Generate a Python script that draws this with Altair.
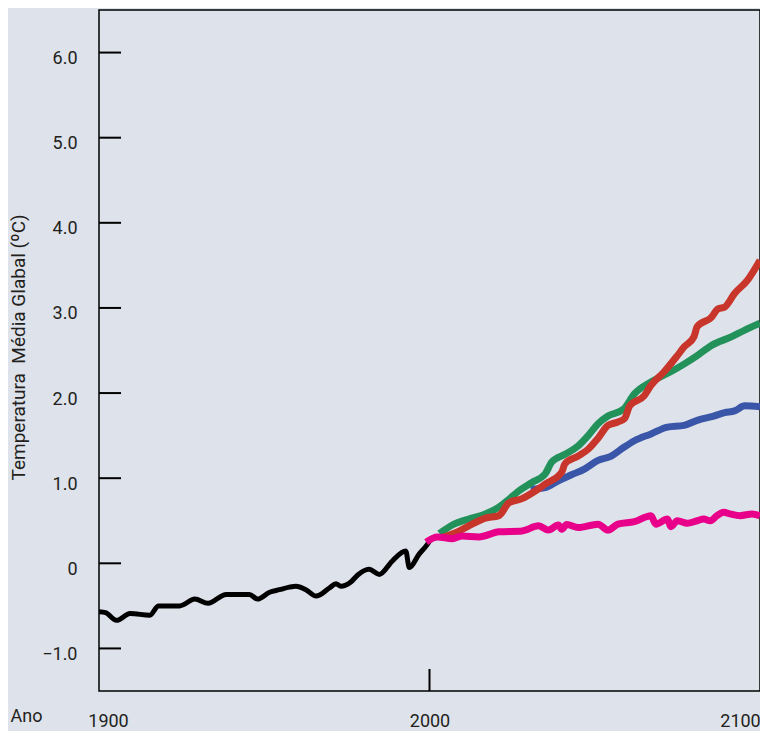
import altair as alt
import pandas as pd

# Observed (black)
obs_years = [1900, 1902, 1905.3, 1909.4, 1915.4, 1918, 1924.4, 1929, 1933, 1938.5, 1945.5,
             1948, 1951.6, 1954.6, 1957.6, 1959.6, 1962.6, 1965.7, 1969.7, 1971.7, 1973.2,
             1976.2, 1978.2, 1981.7, 1984.8, 1988.8, 1992.8, 1993.9, 1996.8, 1999.3, 2000]
obs_temps = [-0.57, -0.58, -0.67, -0.59, -0.61, -0.50, -0.50, -0.42, -0.47, -0.365, -0.365,
             -0.42, -0.34, -0.31, -0.28, -0.27, -0.31, -0.385, -0.29, -0.24, -0.27,
             -0.22, -0.14, -0.07, -0.13, 0.03, 0.145, -0.05, 0.105, 0.22, 0.26]

# Pink scenario
pink_years = [1999, 2002.4, 2006.9, 2009.9, 2014.9, 2021, 2028, 2033, 2036, 2039, 2040, 2041.5,
              2045, 2051, 2054, 2057, 2062, 2067, 2068.5, 2072, 2073, 2075, 2078, 2081, 2083,
              2085, 2087, 2089, 2091, 2094, 2097.6, 2100]
pink_temps = [0.25, 0.31, 0.29, 0.32, 0.31, 0.37, 0.38, 0.44, 0.39, 0.45, 0.40, 0.455,
              0.42, 0.46, 0.39, 0.46, 0.49, 0.56, 0.46, 0.52, 0.43, 0.50, 0.47, 0.50, 0.52,
              0.50, 0.56, 0.60, 0.58, 0.56, 0.58, 0.56]

# Green scenario
green_years = [2003, 2006.9, 2011.9, 2016.9, 2021, 2024, 2027, 2031, 2035, 2037, 2041, 2045,
               2048, 2051, 2054, 2058.7, 2062, 2067, 2073, 2077, 2081, 2085.3, 2091.3, 2095.4, 2100]
green_temps = [0.35, 0.45, 0.52, 0.58, 0.66, 0.75, 0.85, 0.95, 1.05, 1.19, 1.28, 1.38,
               1.50, 1.64, 1.73, 1.81, 1.99, 2.13, 2.25, 2.34, 2.44, 2.56, 2.66, 2.74, 2.82]

# Red scenario
red_years = [2003.5, 2007.9, 2011.9, 2016.9, 2021, 2024, 2028, 2032, 2035, 2040, 2041, 2045,
             2048, 2051, 2054, 2057, 2059, 2060.6, 2065, 2067, 2071, 2075, 2077, 2080, 2081,
             2085.3, 2087.3, 2089.3, 2092.3, 2096.3, 2100]
red_temps = [0.30, 0.36, 0.44, 0.53, 0.56, 0.71, 0.76, 0.85, 0.93, 1.07, 1.17, 1.26,
             1.34, 1.47, 1.62, 1.66, 1.70, 1.85, 1.97, 2.09, 2.25, 2.44, 2.54, 2.66, 2.78,
             2.89, 2.99, 3.01, 3.17, 3.33, 3.56]

# Blue scenario
blue_years = [2030.6, 2035, 2039, 2043, 2047, 2051, 2055, 2058.7, 2062, 2067, 2072, 2077,
              2081, 2086, 2089.3, 2092.3, 2095.4, 2100]
blue_temps = [0.87, 0.89, 0.97, 1.04, 1.11, 1.21, 1.26, 1.36, 1.44, 1.52, 1.60, 1.62,
              1.68, 1.73, 1.77, 1.79, 1.85, 1.84]

y_ticks = [-1, 0, 1, 2, 3, 4, 5, 6]
x_labels = [1900, 2000, 2100]
x_ticks = [2000]

W, H = 661, 681
FONT = "Roboto"
TXT = "#231f20"

xscale = alt.Scale(domain=[1900, 2100], nice=False, zero=False)
yscale = alt.Scale(domain=[-1.5, 6.5], nice=False, zero=False)

xaxis = alt.Axis(
    values=x_labels, format="d", grid=False, ticks=False, tickSize=0, domain=False,
    labelFontSize=18, labelFont=FONT, labelColor=TXT, labelPadding=21, labelFlush=False,
    labelOffset={"condition": [{"test": "datum.value == 1900", "value": 9},
                               {"test": "datum.value == 2100", "value": -20}],
                 "value": 0},
    title="Ano", titleFont=FONT, titleFontSize=18, titleFontWeight="normal", titleColor=TXT,
    titleAlign="left", titleBaseline="alphabetic", titleX=-89, titleY=30,
)
yaxis = alt.Axis(
    values=y_ticks, grid=False, ticks=False, tickSize=0, domain=False,
    labelExpr="datum.value == 0 ? '0' : format(datum.value, '.1f')",
    labelFontSize=18, labelFont=FONT, labelColor=TXT, labelPadding=22, labelOffset=6,
    title="Temperatura\u00a0 Média Glabal (ºC)", titleFont=FONT, titleFontSize=19,
    titleFontWeight="normal", titleColor=TXT, titleX=-71, titleY=337,
)


def series(years, temps, color, width):
    df = pd.DataFrame({"year": years, "temp": temps})
    return alt.Chart(df).mark_line(
        color=color, strokeWidth=width, strokeJoin="round", interpolate="monotone", clip=True
    ).encode(
        x=alt.X("year:Q", scale=xscale, axis=xaxis),
        y=alt.Y("temp:Q", scale=yscale, axis=yaxis),
    )


ytick_layer = alt.Chart(pd.DataFrame({"v": y_ticks})).mark_rule(
    color="black", strokeWidth=2
).encode(
    y=alt.Y("v:Q", scale=yscale),
    x=alt.value(0),
    x2=alt.value(22),
)
xtick_layer = alt.Chart(pd.DataFrame({"v": x_ticks})).mark_rule(
    color="black", strokeWidth=2
).encode(
    x=alt.X("v:Q", scale=xscale),
    y=alt.value(H - 22),
    y2=alt.value(H),
)

chart = alt.layer(
    series(obs_years, obs_temps, "#000000", 5),
    series(blue_years, blue_temps, "#3a56a8", 7),
    series(green_years, green_temps, "#23915a", 7),
    series(red_years, red_temps, "#c8352b", 7),
    series(pink_years, pink_temps, "#e8008a", 7),
    ytick_layer,
    xtick_layer,
).properties(
    width=W, height=H,
    autosize=alt.AutoSizeParams(type="none"),
    padding={"left": 91, "top": 2, "right": 0, "bottom": 40},
    background="#dee2ea",
).configure_view(
    stroke="black", strokeWidth=1.5, fill="#dee2ea"
)

chart.save("out.html", embed_options={"renderer": "svg", "actions": False})
